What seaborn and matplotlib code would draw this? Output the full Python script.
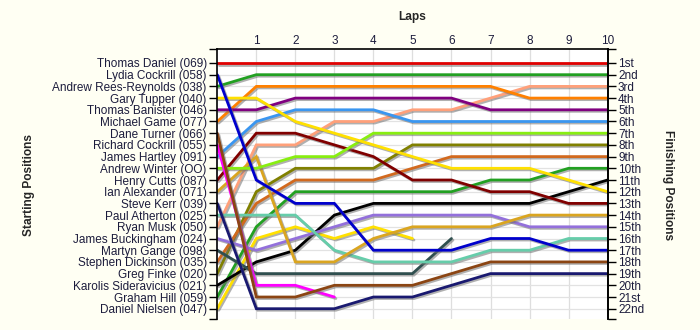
import matplotlib
matplotlib.use("Agg")
import matplotlib.pyplot as plt
import matplotlib.patheffects as pe
import seaborn as sns
import pandas as pd

# Drivers in grid order (starting position 1..22)
drivers = [
    "Thomas Daniel (069)", "Lydia Cockrill (058)", "Andrew Rees-Reynolds (038)",
    "Gary Tupper (040)", "Thomas Banister (046)", "Michael Game (077)",
    "Dane Turner (066)", "Richard Cockrill (055)", "James Hartley (091)",
    "Andrew Winter (OO)", "Henry Cutts (087)", "Ian Alexander (071)",
    "Steve Kerr (039)", "Paul Atherton (025)", "Ryan Musk (050)",
    "James Buckingham (024)", "Martyn Gange (098)", "Stephen Dickinson (035)",
    "Greg Finke (020)", "Karolis Sideravicius (021)", "Graham Hill (059)",
    "Daniel Nielsen (047)",
]

# Running position at the end of each lap (index 0 = grid); shorter lists = retired
positions = [
    [1, 1, 1, 1, 1, 1, 1, 1, 1, 1, 1],
    [2, 11, 13, 13, 17, 17, 17, 16, 16, 17, 17],
    [3, 2, 2, 2, 2, 2, 2, 2, 2, 2, 2],
    [4, 4, 6, 7, 8, 9, 10, 10, 10, 11, 12],
    [5, 5, 4, 4, 4, 4, 4, 5, 5, 5, 5],
    [6, 3, 3, 3, 3, 3, 3, 3, 4, 4, 4],
    [7, 21, 21, 20, 20, 20, 19, 18, 18, 18, 18],
    [8, 20, 20, 21],
    [9, 6, 5, 5, 5, 6, 6, 6, 6, 6, 6],
    [10, 10, 9, 9, 7, 7, 7, 7, 7, 7, 7],
    [11, 7, 7, 8, 9, 11, 11, 12, 12, 13, 13],
    [12, 9, 18, 18, 16, 15, 15, 15, 14, 14, 14],
    [13, 22, 22, 22, 21, 21, 20, 19, 19, 19, 19],
    [14, 14, 14, 17, 18, 18, 18, 17, 17, 16, 16],
    [15, 8, 8, 6, 6, 5, 5, 4, 3, 3, 3],
    [16, 17, 16, 15, 14, 14, 14, 14, 15, 15, 15],
    [17, 19, 19, 19, 19, 19, 16],
    [18, 13, 11, 11, 11, 10, 9, 9, 9, 9, 9],
    [19, 12, 10, 10, 10, 8, 8, 8, 8, 8, 8],
    [20, 18, 17, 14, 13, 13, 13, 13, 13, 12, 11],
    [21, 15, 12, 12, 12, 12, 12, 11, 11, 10, 10],
    [22, 16, 15, 16, 15, 16],
]

colors = [
    "#E00000", "#0000CC", "#22A022", "#FFE000", "#800080", "#FF8000",
    "#8B4513", "#FF00FF", "#3A96F0", "#88EE11", "#800000", "#DAA520",
    "#191970", "#66CDAA", "#FFA07A", "#9370DB", "#2F4F4F", "#D2691E",
    "#808000", "#000000", "#22A022", "#FFE000",
]

finish_labels = [
    "1st", "2nd", "3rd", "4th", "5th", "6th", "7th", "8th", "9th", "10th", "11th",
    "12th", "13th", "14th", "15th", "16th", "17th", "18th", "19th", "20th", "21st", "22nd",
]
laps = list(range(0, 11))

rows = []
for name, pos in zip(drivers, positions):
    for lap, p in zip(laps, pos):
        rows.append({"driver": name, "lap": lap, "pos": p})
df = pd.DataFrame(rows)

sns.set_style("white")
plt.rcParams["font.family"] = ["Liberation Sans", "DejaVu Sans"]
plt.rcParams["font.size"] = 8.5

bg = "#FFFFF3"
text_col = "#1c1c3c"
fig = plt.figure(figsize=(7, 3.3), dpi=100, facecolor=bg)
ax = fig.add_axes([0.3104, 0.0333, 0.5576, 0.8173])
ax.set_facecolor("white")

ax.set_xlim(0, 10)
ax.set_ylim(22.88, -0.17)

palette = dict(zip(drivers, colors))
sns.lineplot(
    data=df, x="lap", y="pos", hue="driver", hue_order=drivers[::-1],
    palette=palette, estimator=None, sort=False, legend=False, lw=2.0, ax=ax,
)
for line in ax.get_lines():
    line.set_path_effects([
        pe.SimpleLineShadow(offset=(1.1, -1.1), shadow_color="#707070", alpha=0.55),
        pe.Normal(),
    ])
    line.set_solid_joinstyle("miter")

# light grid at every lap and every position
for lap in laps[1:]:
    ax.axvline(lap, color="#DEDEDE", lw=0.9, zorder=0)
for p in range(1, 23):
    ax.axhline(p, color="#E2E2E2", lw=0.9, zorder=0)

ax.set_xlabel("")
ax.set_ylabel("")

# lap numbers along the top
ax.xaxis.tick_top()
ax.set_xticks(laps[1:])
ax.set_xticklabels([str(l) for l in laps[1:]], color=text_col)
ax.tick_params(axis="x", length=0, pad=2)

# starting grid on the left
ax.set_yticks(range(1, 23))
ax.set_yticklabels(drivers, color=text_col)
ax.set_yticks([-0.17, 22.88], minor=True)
ax.tick_params(axis="y", which="both", length=6, width=1, color="black", pad=1.5)

for side in ["left", "right", "top"]:
    ax.spines[side].set_color("black")
    ax.spines[side].set_linewidth(1.2)
ax.spines["bottom"].set_visible(False)

# finishing order on the right
ax2 = ax.twinx()
ax2.set_ylim(ax.get_ylim())
ax2.set_yticks(range(1, 23))
ax2.set_yticklabels(finish_labels, color=text_col)
ax2.set_yticks([-0.17, 22.88], minor=True)
ax2.yaxis.set_minor_formatter(plt.NullFormatter())
ax2.tick_params(axis="y", which="both", length=6, width=1, color="black", pad=1.5)
ax2.spines["right"].set_color("black")
ax2.spines["right"].set_linewidth(1.2)
for side in ["left", "top", "bottom"]:
    ax2.spines[side].set_visible(False)
ax2.set_ylabel("")

fig.text(0.5893, 0.948, "Laps", ha="center", va="center", fontweight="bold", fontsize=8.6)
fig.text(0.041, 0.44, "Starting Positions", ha="center", va="center",
         rotation=90, fontweight="bold", fontsize=8.6)
fig.text(0.955, 0.44, "Finishing Positions", ha="center", va="center",
         rotation=270, fontweight="bold", fontsize=8.6)

fig.savefig("out.png", dpi=100, facecolor=bg)
